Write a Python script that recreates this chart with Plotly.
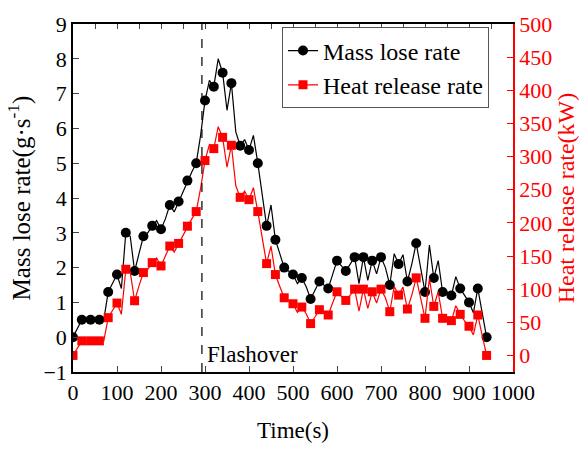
import plotly.graph_objects as go

time_s = [0, 10, 20, 30, 40, 50, 60, 70, 80, 90,
          100, 110, 120, 130, 140, 150, 160, 170, 180, 190,
          200, 210, 220, 230, 240, 250, 260, 270, 280, 290,
          300, 310, 320, 330, 340, 350, 360, 370, 380, 390,
          400, 410, 420, 430, 440, 450, 460, 470, 480, 490,
          500, 510, 520, 530, 540, 550, 560, 570, 580, 590,
          600, 610, 620, 630, 640, 650, 660, 670, 680, 690,
          700, 710, 720, 730, 740, 750, 760, 770, 780, 790,
          800, 810, 820, 830, 840, 850, 860, 870, 880, 890,
          900, 910, 920, 930, 940]

mass_lose_rate = [0.0, 0.25, 0.5, 0.5, 0.5, 0.5, 0.5, 0.5, 1.3, 1.55,
                  1.8, 1.4, 3.0, 2.9, 1.9, 2.4, 2.9, 3.0, 3.2, 3.35,
                  3.1, 3.4, 3.8, 3.6, 3.9, 4.2, 4.5, 4.75, 5.0, 5.8,
                  6.8, 7.38, 7.2, 8.0, 7.6, 6.52, 7.3, 5.9, 5.5, 5.68,
                  5.38, 5.8, 5.0, 4.1, 3.2, 3.8, 2.8, 2.4, 2.0, 1.9,
                  1.8, 1.54, 1.7, 1.45, 1.1, 1.35, 1.6, 1.5, 1.4, 1.8,
                  2.2, 2.05, 1.9, 2.1, 2.3, 1.54, 2.3, 1.63, 2.2, 1.82,
                  2.3, 2.0, 1.5, 2.4, 2.1, 2.37, 1.6, 2.1, 2.7, 2.0,
                  1.3, 2.65, 1.7, 2.2, 1.3, 1.3, 1.2, 1.74, 1.4, 1.2,
                  1.0, 0.7, 1.4, 0.7, 0.0]

heat_release_rate = [0, 11, 22, 22, 22, 22, 22, 22, 57, 68,
                     79, 62, 130, 126, 82.5, 105, 125, 130, 140, 147,
                     135, 150, 165, 156, 169, 182, 195, 206, 217, 252,
                     294, 318, 312, 345, 329, 284, 317, 256, 238.5, 248,
                     235, 253, 217, 178, 138.5, 165, 122, 104, 87, 83,
                     78, 65, 73, 63, 48, 58, 69, 65, 61, 79,
                     96, 89, 83, 91, 100, 67, 100, 71, 96, 79,
                     100, 87, 66, 104, 91, 103, 70, 91, 117, 87,
                     56, 116, 74, 96, 56, 56, 52.5, 75, 62, 52,
                     44, 31, 61, 30, 0]

flashover_time = 293
x_ticks = [0, 100, 200, 300, 400, 500, 600, 700, 800, 900, 1000]

FONT = "Liberation Serif, Times New Roman, serif"
RED = "#ff0000"

# markers are drawn on every second sample (points skipped as in the original)
t_marked = time_s[::2]
mlr_marked = mass_lose_rate[::2]
hrr_marked = heat_release_rate[::2]

fig = go.Figure()

# Mass lose rate
fig.add_trace(go.Scatter(x=time_s, y=mass_lose_rate, mode="lines",
                         line=dict(color="black", width=1.2), showlegend=False,
                         legendgroup="m", yaxis="y"))
fig.add_trace(go.Scatter(x=t_marked, y=mlr_marked, mode="markers",
                         marker=dict(symbol="circle", color="black", size=10),
                         showlegend=False, legendgroup="m", yaxis="y"))
# Heat release rate
fig.add_trace(go.Scatter(x=time_s, y=heat_release_rate, mode="lines",
                         line=dict(color=RED, width=1.2), showlegend=False,
                         legendgroup="h", yaxis="y2"))
fig.add_trace(go.Scatter(x=t_marked, y=hrr_marked, mode="markers",
                         marker=dict(symbol="square", color=RED, size=9),
                         showlegend=False, legendgroup="h", yaxis="y2"))
# legend entries
fig.add_trace(go.Scatter(x=[None], y=[None], mode="lines+markers", name="Mass lose rate",
                         line=dict(color="black", width=1.2),
                         marker=dict(symbol="circle", color="black", size=10),
                         legendgroup="m", yaxis="y"))
fig.add_trace(go.Scatter(x=[None], y=[None], mode="lines+markers", name="Heat release rate",
                         line=dict(color=RED, width=1.2),
                         marker=dict(symbol="square", color=RED, size=9),
                         legendgroup="h", yaxis="y2"))
# top axis helper (ticks every 50)
fig.add_trace(go.Scatter(x=[0, 1000], y=[-5, -5], xaxis="x2", yaxis="y",
                         showlegend=False, hoverinfo="skip", mode="lines",
                         line=dict(width=0)))

fig.add_shape(type="line", xref="x", yref="paper", x0=flashover_time, x1=flashover_time,
              y0=0, y1=1, line=dict(color="black", width=1.2, dash="dash"))
fig.add_annotation(x=flashover_time + 8, y=-0.5, xref="x", yref="y", text="Flashover",
                   showarrow=False, xanchor="left", yanchor="middle",
                   font=dict(family=FONT, size=23, color="black"))

fig.update_layout(
    width=587, height=451,
    margin=dict(l=73, r=70, t=23, b=70),
    paper_bgcolor="white", plot_bgcolor="white",
    font=dict(family=FONT, size=22, color="black"),
    showlegend=True,
    legend=dict(x=0.475, y=0.99, xanchor="left", yanchor="top",
                bgcolor="white", bordercolor="#555", borderwidth=1,
                font=dict(family=FONT, size=24), tracegroupgap=0,
                itemwidth=30),
    xaxis=dict(range=[0, 1000], tickvals=x_ticks, ticks="inside", ticklen=6,
               showline=True, linecolor="black", linewidth=1.5, showgrid=False,
               zeroline=False, mirror=False,
               title=dict(text="Time(s)", font=dict(family=FONT, size=23), standoff=18),
               tickfont=dict(family=FONT, size=22)),
    xaxis2=dict(range=[0, 1000], overlaying="x", side="top", dtick=50, tick0=0,
                ticks="inside", ticklen=5, showticklabels=False, showline=True,
                linecolor="black", linewidth=1.5, showgrid=False, zeroline=False),
    yaxis=dict(range=[-1, 9], dtick=1, ticks="inside", ticklen=6, showline=True,
               linecolor="black", linewidth=1.5, showgrid=False, zeroline=False,
               title=dict(text="Mass lose rate(g·s<sup>-1</sup>)",
                          font=dict(family=FONT, size=25), standoff=6),
               tickfont=dict(family=FONT, size=22)),
    yaxis2=dict(range=[-25, 500], dtick=50, tick0=0, overlaying="y", side="right",
                ticks="inside", ticklen=6, showline=True, linecolor=RED, linewidth=1.5,
                tickcolor=RED, showgrid=False, zeroline=False,
                tickfont=dict(family=FONT, size=22, color=RED),
                title=dict(text="Heat release rate(kW)",
                           font=dict(family=FONT, size=24, color=RED), standoff=6)),
)

fig.write_html("out.html")
